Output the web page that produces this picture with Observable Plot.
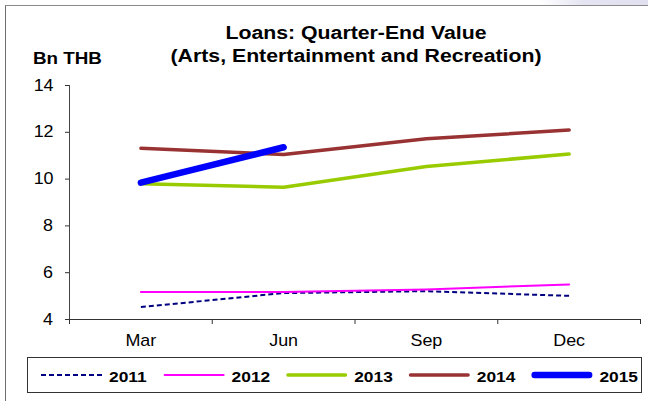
<!DOCTYPE html>
<html>
<head>
<meta charset="utf-8">
<script src="https://cdn.jsdelivr.net/npm/d3@7"></script>
<script src="https://cdn.jsdelivr.net/npm/@observablehq/plot@0.6"></script>
<style>
  html, body { margin: 0; padding: 0; background: #fff; }
  #chart { position: relative; width: 648px; height: 401px; overflow: hidden; background: #fff;
           font-family: "Liberation Sans", Arial, sans-serif; }
  #chart > svg { position: absolute; left: 0; top: 0; }
  .frameL { position: absolute; left: 5px; top: 5px; width: 1px; height: 400px; background: #6e6e6e; }
  .frameT { position: absolute; left: 5px; top: 5px; width: 650px; height: 1px; background: #8a8a8a; }
  .deco { position: absolute; left: 540px; top: 0; width: 108px; height: 5px;
          background: linear-gradient(to right, #ffffff, #e4e4f2 40%, #e0e0f0); }
</style>
</head>
<body>
<div id="chart"></div>
<script>
// ---- data ----
const months = ["Mar", "Jun", "Sep", "Dec"];
const years = ["2011", "2012", "2013", "2014", "2015"];
const v2011 = [4.53, 5.13, 5.21, 5.01];
const v2012 = [5.17, 5.18, 5.28, 5.50];
const v2013 = [9.80, 9.65, 10.54, 11.07];
const v2014 = [11.32, 11.05, 11.72, 12.10];
const v2015 = [9.85, 11.36];
const yTicks = [4, 6, 8, 10, 12, 14];
const titleLines = ["Loans: Quarter-End Value", "(Arts, Entertainment and Recreation)"];
const unitLabel = "Bn THB";

// ---- styles (separate from data) ----
const seriesValues = {"2011": v2011, "2012": v2012, "2013": v2013, "2014": v2014, "2015": v2015};
const styles = {
  "2011": {stroke: "#000080", strokeWidth: 2, dash: "5,3", cap: "butt"},
  "2012": {stroke: "#ff00ff", strokeWidth: 2, dash: null, cap: "round"},
  "2013": {stroke: "#99cc00", strokeWidth: 3.5, dash: null, cap: "round"},
  "2014": {stroke: "#993333", strokeWidth: 3.5, dash: null, cap: "round"},
  "2015": {stroke: "#0000ff", strokeWidth: 6.5, dash: null, cap: "round"}
};
const STRETCH = 1.12;

const rows = years.map(y => seriesValues[y].map((v, i) => ({year: y, x: i, value: v})));
const boundaries = d3.range(months.length + 1).map(i => i - 0.5);

const lineMarks = years.map((y, k) => Plot.line(rows[k], {
  x: "x", y: "value",
  stroke: styles[y].stroke,
  strokeWidth: styles[y].strokeWidth,
  strokeDasharray: styles[y].dash || undefined,
  strokeLinecap: styles[y].cap,
  strokeLinejoin: "round"
}));

const plot = Plot.plot({
  width: 648,
  height: 350,
  marginLeft: 69,
  marginRight: 8,
  marginTop: 85,
  marginBottom: 31,
  style: {fontFamily: "'Liberation Sans', Arial, sans-serif", fontSize: "16px", color: "#000", background: "transparent"},
  x: {type: "linear", domain: [-0.5, months.length - 0.5]},
  y: {domain: [4, 14]},
  marks: [
    Plot.axisY({ticks: yTicks, tickSize: 4, tickPadding: 13, stroke: "#333", label: null, fontSize: 16}),
    Plot.axisX({ticks: boundaries, tickSize: 5, tickFormat: () => "", stroke: "#333", label: null}),
    Plot.axisX({ticks: d3.range(months.length), tickSize: 0, tickPadding: 15, tickFormat: i => months[i], label: null, fontSize: 16}),
    Plot.ruleX([-0.5], {stroke: "#444"}),
    Plot.ruleY([4], {stroke: "#333"}),
    ...lineMarks
  ]
});

const chart = document.getElementById("chart");
chart.appendChild(plot);

// horizontally stretch Plot's text (the reference is stretched)
function stretchTexts(svg, k) {
  svg.querySelectorAll("text").forEach(t => {
    const r = t.getBoundingClientRect();
    if (!r.width) return;
    const parent = t.parentNode;
    const m = parent.getScreenCTM().inverse();
    const pt = svg.createSVGPoint();
    pt.x = r.x + r.width / 2; pt.y = r.y;
    const p = pt.matrixTransform(m);
    const g = document.createElementNS("http://www.w3.org/2000/svg", "g");
    g.setAttribute("transform", `translate(${p.x},0) scale(${k},1) translate(${-p.x},0)`);
    parent.insertBefore(g, t);
    g.appendChild(t);
  });
}
stretchTexts(plot, STRETCH);

// frame decorations
["deco", "frameL", "frameT"].forEach(c => {
  const d = document.createElement("div"); d.className = c; chart.appendChild(d);
});

// ---- overlay: title, unit label, legend ----
const ov = d3.select(chart).append("svg")
  .attr("width", 648).attr("height", 401)
  .style("font-family", "'Liberation Sans', Arial, sans-serif");

ov.selectAll("text.title").data(titleLines).join("text")
  .attr("class", "title")
  .attr("transform", (d, i) => `translate(356,${i ? 62 : 39}) scale(${STRETCH},1)`)
  .attr("text-anchor", "middle")
  .attr("font-weight", "bold")
  .attr("font-size", 19)
  .attr("fill", "#000")
  .text(d => d);

ov.append("text")
  .attr("transform", `translate(33,64) scale(${STRETCH},1)`)
  .attr("font-weight", "bold")
  .attr("font-size", 16.8)
  .attr("fill", "#000")
  .text(unitLabel);

// legend
const lg = ov.append("g");
lg.append("rect").attr("x", 27.5).attr("y", 357.5).attr("width", 614).attr("height", 35)
  .attr("fill", "#fff").attr("stroke", "#333").attr("stroke-width", 1);
const step = 122.6, sw0 = 41, swLen = 61;
const items = lg.selectAll("g.item").data(years).join("g").attr("class", "item")
  .attr("transform", (d, i) => `translate(${sw0 + i * step},0)`);
items.append("line")
  .attr("x1", d => styles[d].cap === "round" ? styles[d].strokeWidth / 2 : 0)
  .attr("x2", d => swLen - (styles[d].cap === "round" ? styles[d].strokeWidth / 2 : 0))
  .attr("y1", 375).attr("y2", 375)
  .attr("stroke", d => styles[d].stroke)
  .attr("stroke-width", d => styles[d].strokeWidth)
  .attr("stroke-dasharray", d => styles[d].dash)
  .attr("stroke-linecap", d => styles[d].cap);
items.append("text")
  .attr("transform", `translate(${swLen + 7},381.5) scale(${STRETCH},1)`)
  .attr("font-weight", "bold")
  .attr("font-size", 15.5)
  .attr("fill", "#000")
  .text(d => d);
</script>
</body>
</html>
